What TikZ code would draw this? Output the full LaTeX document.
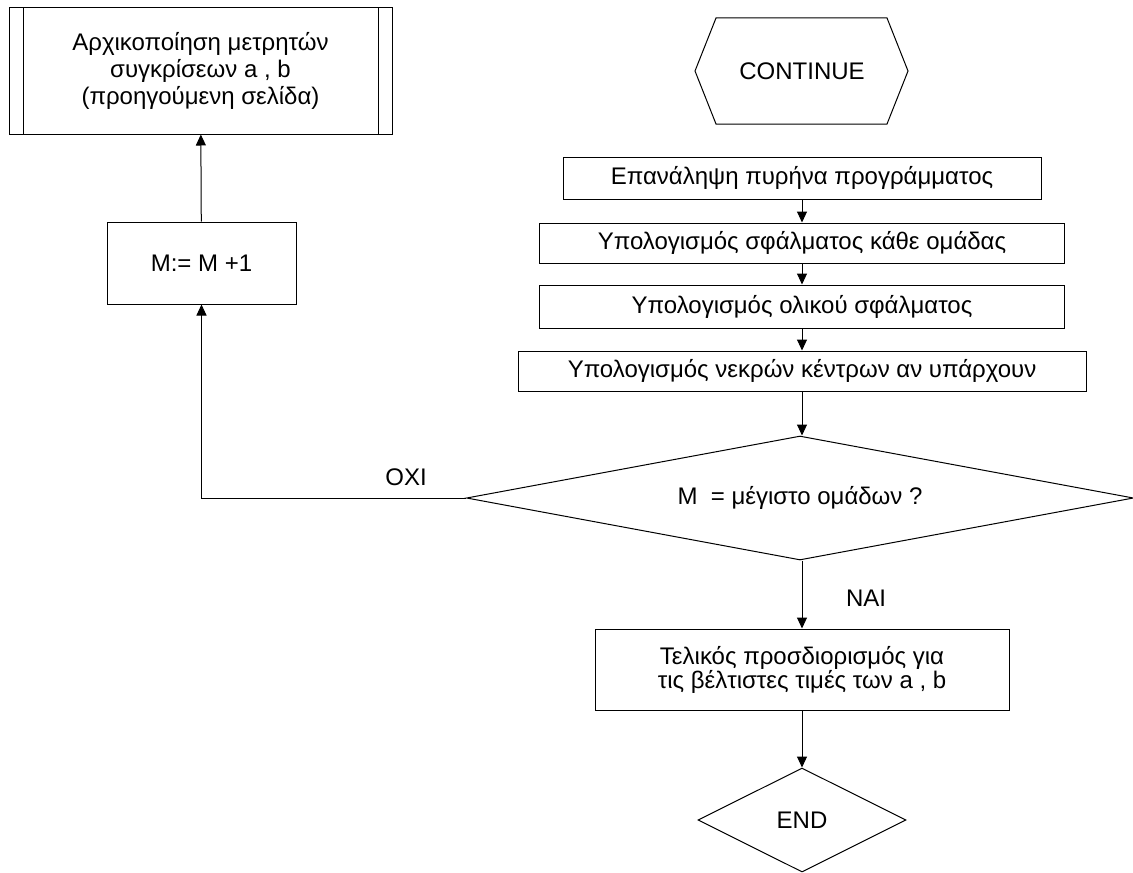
\documentclass[tikz,border=0pt]{standalone}
\usepackage{fontspec}
\setmainfont{Liberation Sans}
\usetikzlibrary{shapes.geometric,arrows.meta}

\tikzset{
    every node/.style={font=\fontsize{12}{11.5}\selectfont},
    box/.style={draw, rectangle, inner sep=0pt, align=center},
    flow/.style={-{Triangle[length=5.5pt,width=5pt]}},
}

\begin{document}
\begin{tikzpicture}[x=0.5pt,y=-0.5pt,line width=0.5pt]
    \useasboundingbox (0,0) rectangle (1133,872);
    % left column
    \node[box,minimum width=191.5pt,minimum height=63pt,font=\fontsize{12}{13.5}\selectfont]
        (init) at (200.5,71)
        {Αρχικοποίηση μετρητών\\ συγκρίσεων a , b\\ (προηγούμενη σελίδα)};
    \draw ([xshift=7.5pt]init.north west) -- ([xshift=7.5pt]init.south west);
    \draw ([xshift=-7pt]init.north east) -- ([xshift=-7pt]init.south east);
    \node[box,minimum width=94.5pt,minimum height=41pt] (inc) at (201.5,263) {M:= M +1};
    % right column
    \node (cont) at (802,71) {CONTINUE};
    \draw (cont) ++(-107,0) -- ++(21,-53) -- ++(171,0) -- ++(21,53)
        -- ++(-21,53) -- ++(-171,0) -- cycle;
    \node[box,minimum width=239pt,minimum height=21pt] (rep) at (802,178)
        {Επανάληψη πυρήνα προγράμματος};
    \node[box,minimum width=262.5pt,minimum height=20pt] (errgrp) at (802,243)
        {Υπολογισμός σφάλματος κάθε ομάδας};
    \node[box,minimum width=262.5pt,minimum height=21.5pt] (errtot) at (802,306.5)
        {Υπολογισμός ολικού σφάλματος};
    \node[box,minimum width=284pt,minimum height=20pt] (dead) at (802,371)
        {Υπολογισμός νεκρών κέντρων αν υπάρχουν};
    \node[draw,diamond,aspect=5.4,inner sep=0pt,minimum width=333.5pt,minimum height=62pt]
        (test) at (800,498) {M~~= μέγιστο ομάδων ?};
    \node[box,minimum width=207pt,minimum height=40.5pt,font=\fontsize{12}{12}\selectfont]
        (final) at (802,669.5)
        {Τελικός προσδιορισμός για\\ τις βέλτιστες τιμές των a , b};
    \node[draw,diamond,aspect=2,inner sep=0pt,minimum width=104pt,minimum height=52pt]
        (endn) at (802,820) {END};
    \node (no) at (406,477) {OXI};
    \node (yes) at (866,598) {NAI};
    % connectors
    \draw[flow] (rep) -- (errgrp);
    \draw[flow] (errgrp) -- (errtot);
    \draw[flow] (errtot) -- (dead);
    \draw[flow] (dead) -- (dead |- test.north);
    \draw[flow] (test.south -| final) -- (final);
    \draw[flow] (final) -- (endn);
    \draw[flow] (test.west) -| (inc.south);
    \draw[flow] (inc) -- (init);
\end{tikzpicture}
\end{document}
